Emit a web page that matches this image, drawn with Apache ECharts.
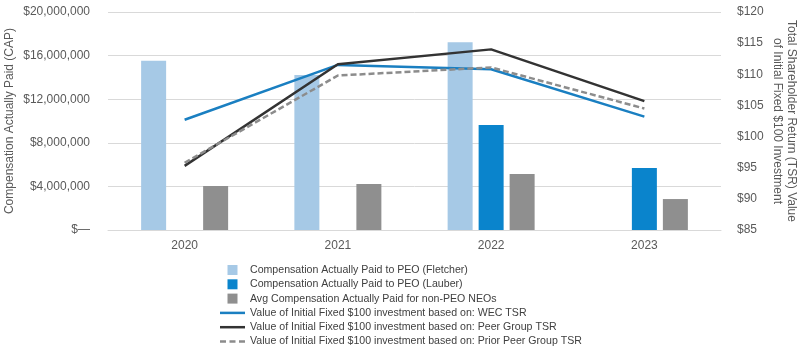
<!DOCTYPE html>
<html><head><meta charset="utf-8">
<script src="https://cdn.jsdelivr.net/npm/echarts@6/dist/echarts.min.js"></script>
<style>html,body{margin:0;padding:0;background:#fff}#c{width:805px;height:350px}</style>
</head><body><div id="c"></div>
<script>
const categories = ['2020', '2021', '2022', '2023'];
const capFletcher = [15530000, 14220000, 17220000, null];
const capLauber = [null, null, 9630000, 5690000];
const capNonPeo = [4040000, 4220000, 5140000, 2840000];
const tsrWec = [102.7, 111.5, 110.8, 103.2];
const tsrPeer = [95.3, 111.6, 114.0, 105.7];
const tsrPriorPeer = [95.8, 109.8, 111.1, 104.5];
const leftTicks = { min: 0, max: 20000000, interval: 4000000 };
const rightTicks = { min: 85, max: 120, interval: 5 };

const names = [
  'Compensation Actually Paid to PEO (Fletcher)',
  'Compensation Actually Paid to PEO (Lauber)',
  'Avg Compensation Actually Paid for non-PEO NEOs',
  'Value of Initial Fixed $100 investment based on: WEC TSR',
  'Value of Initial Fixed $100 investment based on: Peer Group TSR',
  'Value of Initial Fixed $100 investment based on: Prior Peer Group TSR'
];
const FONT = '"Liberation Sans", Arial, sans-serif';
const sq = 'path://M0,0h10v10h-10z';
const solidIcon = 'path://M0,0h25v2.5h-25z';
const dashIcon = 'path://M0,0h6v2.5h-6zM9.5,0h6v2.5h-6zM19,0h6v2.5h-6z';
const chart = echarts.init(document.getElementById('c'), null, { renderer: 'canvas' });
chart.setOption({
  animation: false,
  textStyle: { fontFamily: FONT },
  grid: { left: 108, right: 84, top: 12, bottom: 120, containLabel: false, outerBoundsMode: 'none' },
  legend: {
    orient: 'vertical', left: 220, top: 264.5, padding: 0, height: 90,
    itemWidth: 25, itemHeight: 10, itemGap: 3.3,
    textStyle: { fontSize: 10.6, color: '#404040', fontFamily: FONT },
    data: [
      { name: names[0], icon: sq },
      { name: names[1], icon: sq },
      { name: names[2], icon: sq },
      { name: names[3], icon: solidIcon },
      { name: names[4], icon: solidIcon },
      { name: names[5], icon: dashIcon }
    ]
  },
  xAxis: {
    type: 'category', data: categories,
    axisLine: { lineStyle: { color: '#d9d9d9', width: 1 } },
    axisTick: { show: false },
    axisLabel: { color: '#595959', fontSize: 12, margin: 10, fontFamily: FONT }
  },
  yAxis: [
    {
      type: 'value', min: leftTicks.min, max: leftTicks.max, interval: leftTicks.interval,
      position: 'left',
      name: 'Compensation Actually Paid (CAP)', nameLocation: 'middle', nameRotate: 90, nameGap: 92,
      nameMoveOverlap: false,
      nameTextStyle: { color: '#595959', fontSize: 12, fontFamily: FONT },
      axisLine: { show: false }, axisTick: { show: false },
      axisLabel: {
        color: '#595959', fontSize: 12, margin: 18, fontFamily: FONT,
        formatter: v => v === 0 ? '$\u2014' : '$' + v.toLocaleString('en-US')
      },
      splitLine: { lineStyle: { color: '#d9d9d9', width: 1 } }
    },
    {
      type: 'value', min: rightTicks.min, max: rightTicks.max, interval: rightTicks.interval,
      position: 'right',
      name: 'Total Shareholder Return (TSR) Value\nof Initial Fixed $100 Investment',
      nameLocation: 'middle', nameRotate: -90, nameGap: 49, nameMoveOverlap: false,
      nameTextStyle: { color: '#595959', fontSize: 12, lineHeight: 14, fontFamily: FONT },
      axisLine: { show: false }, axisTick: { show: false },
      axisLabel: { color: '#595959', fontSize: 12, margin: 16, fontFamily: FONT, formatter: v => '$' + v },
      splitLine: { show: false }
    }
  ],
  series: [
    { name: names[0], type: 'bar', data: capFletcher, barWidth: 25, barGap: '24%', itemStyle: { color: '#a6c9e6' } },
    { name: names[1], type: 'bar', data: capLauber, barWidth: 25, barGap: '24%', itemStyle: { color: '#0a84cc' } },
    { name: names[2], type: 'bar', data: capNonPeo, barWidth: 25, barGap: '24%', itemStyle: { color: '#8f8f8f' } },
    { name: names[3], type: 'line', yAxisIndex: 1, data: tsrWec, showSymbol: false, symbol: 'none', lineStyle: { color: '#1a7fc1', width: 2.5 }, itemStyle: { color: '#1a7fc1' } },
    { name: names[4], type: 'line', yAxisIndex: 1, data: tsrPeer, showSymbol: false, symbol: 'none', lineStyle: { color: '#333333', width: 2.5 }, itemStyle: { color: '#333333' } },
    { name: names[5], type: 'line', yAxisIndex: 1, data: tsrPriorPeer, showSymbol: false, symbol: 'none', lineStyle: { color: '#8c8c8c', width: 2.5, type: [6, 3] }, itemStyle: { color: '#8c8c8c' } }
  ]
});
</script>
</body></html>
